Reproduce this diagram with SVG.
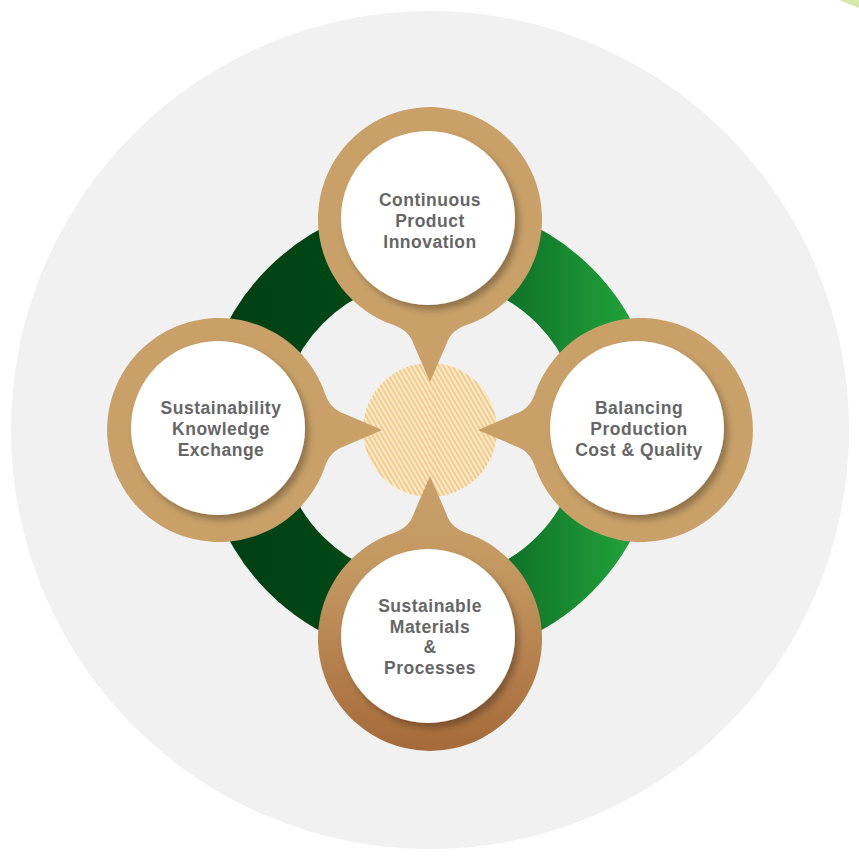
<svg xmlns="http://www.w3.org/2000/svg" width="859" height="858" viewBox="0 0 859 858">
  <defs>
    <linearGradient id="ringGrad" gradientUnits="userSpaceOnUse" x1="230" y1="0" x2="632" y2="0">
      <stop offset="0" stop-color="#003f12"/>
      <stop offset="0.45" stop-color="#004d18"/>
      <stop offset="1" stop-color="#22a23b"/>
    </linearGradient>
    <linearGradient id="bottomGrad" gradientUnits="userSpaceOnUse" x1="0" y1="162" x2="0" y2="-112">
      <stop offset="0" stop-color="#c9a16b"/>
      <stop offset="0.35" stop-color="#c39760"/>
      <stop offset="1" stop-color="#a66a3a"/>
    </linearGradient>
    <pattern id="hatch" patternUnits="userSpaceOnUse" width="4" height="4" patternTransform="rotate(-30)">
      <rect width="4" height="4" fill="#fdeccc"/>
      <rect width="2" height="4" fill="#f3c98a"/>
    </pattern>
    <filter id="shadow" x="-20%" y="-20%" width="140%" height="140%">
      <feDropShadow dx="4" dy="5" stdDeviation="3" flood-color="#000" flood-opacity="0.28"/>
    </filter>
    <path id="pin" d="M -35 105.5 A 112 112 0 1 1 35 105.5 C 24 110 19 116 16 125 L 0 162 L -16 125 C -19 116 -24 110 -35 105.5 Z"/>
  </defs>
  <style>
    .pin { fill: #c8a068; }
    .face { fill: #ffffff; filter: url(#shadow); }
    .label { font-family: "Liberation Sans", Arial, sans-serif; font-weight: 700; font-size: 17.5px; letter-spacing: 0.5px; fill: #666666; text-anchor: middle; }
  </style>

  <rect width="859" height="858" fill="#ffffff"/>
  <circle cx="430" cy="430" r="419" fill="#f1f1f1"/>
  <path d="M 839 0 L 859 0 L 859 8 Q 849 4 839 0 Z" fill="#d7e7a9"/>

  <g id="connectors">
    <circle cx="430" cy="430" r="190" fill="none" stroke="url(#ringGrad)" stroke-width="78"/>
    <circle cx="430" cy="430" r="67" fill="url(#hatch)"/>
  </g>

  <g id="node-top" transform="translate(430,220)">
    <use href="#pin" class="pin"/>
    <circle cx="-2" cy="-2" r="87" class="face"/>
    <text class="label" x="0" y="-14">Continuous</text>
    <text class="label" x="0" y="7">Product</text>
    <text class="label" x="0" y="28">Innovation</text>
  </g>

  <g id="node-right" transform="translate(640,430)">
    <use href="#pin" class="pin" transform="rotate(90)"/>
    <circle cx="-3" cy="-2" r="87" class="face"/>
    <text class="label" x="-1" y="-16">Balancing</text>
    <text class="label" x="-1" y="5">Production</text>
    <text class="label" x="-1" y="26">Cost &amp; Quality</text>
  </g>

  <g id="node-left" transform="translate(220,430)">
    <use href="#pin" class="pin" transform="rotate(-90)"/>
    <circle cx="-2" cy="-2" r="87" class="face"/>
    <text class="label" x="1" y="-16">Sustainability</text>
    <text class="label" x="1" y="5">Knowledge</text>
    <text class="label" x="1" y="26">Exchange</text>
  </g>

  <g id="node-bottom" transform="translate(430,638)">
    <use href="#pin" transform="rotate(180)" fill="url(#bottomGrad)"/>
    <circle cx="-2" cy="-2" r="87" class="face"/>
    <text class="label" x="0" y="-26">Sustainable</text>
    <text class="label" x="0" y="-5">Materials</text>
    <text class="label" x="0" y="15">&amp;</text>
    <text class="label" x="0" y="36">Processes</text>
  </g>
</svg>
